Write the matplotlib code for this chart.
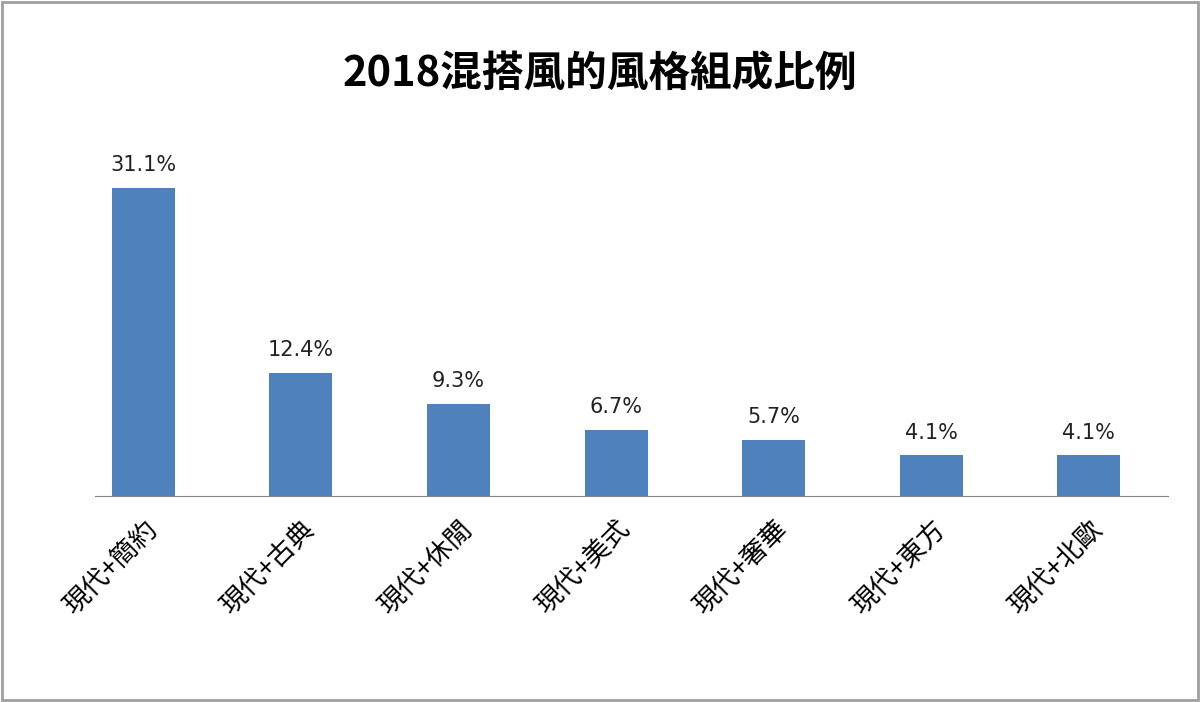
import matplotlib.pyplot as plt
from matplotlib import font_manager
from matplotlib.patches import Rectangle

# pick whichever CJK face matplotlib actually registered
cjk = [f.name for f in font_manager.fontManager.ttflist if "CJK" in f.name]
pref = [n for n in ["Noto Sans CJK TC", "Noto Sans CJK JP", "Noto Sans CJK SC", "Noto Sans CJK KR"] if n in cjk]
plt.rcParams["font.family"] = (pref or sorted(set(cjk))) + ["DejaVu Sans"]

categories = ["現代+簡約", "現代+古典", "現代+休閒", "現代+美式", "現代+奢華", "現代+東方", "現代+北歐"]
values = [31.1, 12.4, 9.3, 6.7, 5.7, 4.1, 4.1]
value_labels = ["31.1%", "12.4%", "9.3%", "6.7%", "5.7%", "4.1%", "4.1%"]

fig = plt.figure(figsize=(12, 7.02), dpi=100)
fig.patches.append(Rectangle((0.002, 0.003), 0.996, 0.994, transform=fig.transFigure,
                             fill=False, edgecolor="#a0a0a0", linewidth=2))

ax = fig.add_axes([0.079, 0.2934, 0.894, 0.5078])
x = range(len(categories))
ax.bar(x, values, width=0.40, color="#4F81BD")
for xi, v, lab in zip(x, values, value_labels):
    ax.text(xi, v + 1.3, lab, ha="center", va="bottom", fontsize=15, color="#222222",
            family="DejaVu Sans")

ax.set_xlim(-0.308, 6.50)
ax.set_ylim(0, 36)
ax.set_yticks([])
for s in ["top", "right", "left"]:
    ax.spines[s].set_visible(False)
ax.spines["bottom"].set_color("#888888")
ax.set_xticks(list(x))
ax.set_xticklabels(categories, rotation=45, ha="right", rotation_mode="anchor", fontsize=19)
ax.tick_params(axis="x", length=0, pad=14)

fig.text(0.5, 0.895, "2018混搭風的風格組成比例", ha="center", va="center",
         fontsize=30, fontweight="bold")

fig.savefig("out.png", dpi=100)
